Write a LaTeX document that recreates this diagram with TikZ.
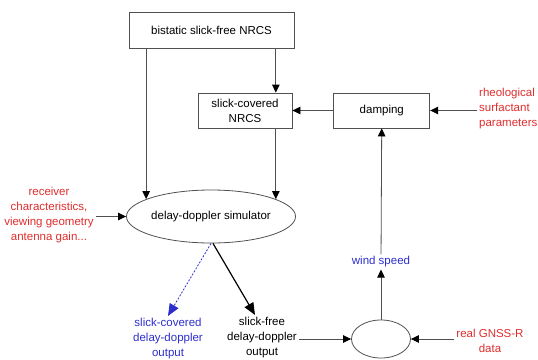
\documentclass[tikz,border=0pt]{standalone}
\usepackage{fontspec}
\setmainfont{Liberation Sans}
\usetikzlibrary{positioning,shapes.geometric,arrows.meta}

\definecolor{paramred}{RGB}{222,45,45}
\definecolor{outblue}{RGB}{45,45,205}
\definecolor{wire}{RGB}{80,80,80}

\tikzset{
  box/.style={draw=wire, line width=0.8pt, inner sep=2pt, align=center},
  oval/.style={draw=wire, line width=0.8pt, ellipse, inner sep=0pt},
  tag/.style={align=center, inner sep=2pt},
  flow/.style={draw=wire, line width=0.8pt, -{Triangle[length=8pt,width=7.5pt,color=black]}},
  bigflow/.style={line width=1.2pt, -{Triangle[length=12pt,width=10pt]}},
}

\begin{document}
\begin{tikzpicture}[x=1pt, y=-1pt, font=\fontsize{11.5}{15}\selectfont]
  \useasboundingbox (0,0) rectangle (538,359);

  \node[box, minimum width=165pt, minimum height=36pt] (nrcs) at (211.5,30) {bistatic slick-free NRCS};
  \node[box, minimum width=94pt, minimum height=35pt] (covered) at (245,110.5) {slick-covered\\NRCS};
  \node[box, minimum width=96pt, minimum height=35pt, right=41pt of covered] (damping) {damping};
  \node[tag, text=paramred, align=left, anchor=west] (rheo) at (477,109) {rheological\\surfactant\\parameters};

  \node[oval, minimum width=164pt, minimum height=53pt] (sim) at (211,216.5) {delay-doppler simulator};
  \node[tag, text=paramred] (recv) at (49,215) {receiver\\characteristics,\\viewing geometry\\antenna gain...};

  \node[tag, text=outblue] (covout) at (168,338.5) {slick-covered\\delay-doppler\\output};
  \node[tag] (freeout) at (262,337.5) {slick-free\\delay-doppler\\output};
  \node[oval, minimum width=59pt, minimum height=38pt] (fit) at (381,339) {};
  \node[tag, text=paramred] (gnss) at (490,341) {real GNSS-R\\data};
  \node[tag, text=outblue] (wind) at (381,262) {wind speed};

  \coordinate (drop) at (sim.15 |- nrcs.south);
  \draw[flow] (sim.165 |- nrcs.south) -- (sim.165);
  \draw[flow] (drop) -- (drop |- covered.north);
  \draw[flow] (sim.15 |- covered.south) -- (sim.15);
  \draw[flow] (damping) -- (covered);
  \draw[flow] (rheo.west |- damping.east) -- (damping.east);
  \draw[flow] (recv.east |- sim.west) -- (sim.west);

  \draw[flow, bigflow, draw=outblue, dash pattern=on 2pt off 1.5pt, line width=0.8pt] (sim.south) -- (covout.north);
  \draw[flow, bigflow, draw=black] ([xshift=2pt]sim.south) -- ([xshift=-7pt]freeout.north);
  \draw[flow] (freeout.east |- fit.west) -- (fit.west);
  \draw[flow] (gnss.west |- fit.east) -- (fit.east);
  \draw[flow] (fit) -- (wind);
  \draw[flow] (wind) -- (damping);
\end{tikzpicture}
\end{document}
